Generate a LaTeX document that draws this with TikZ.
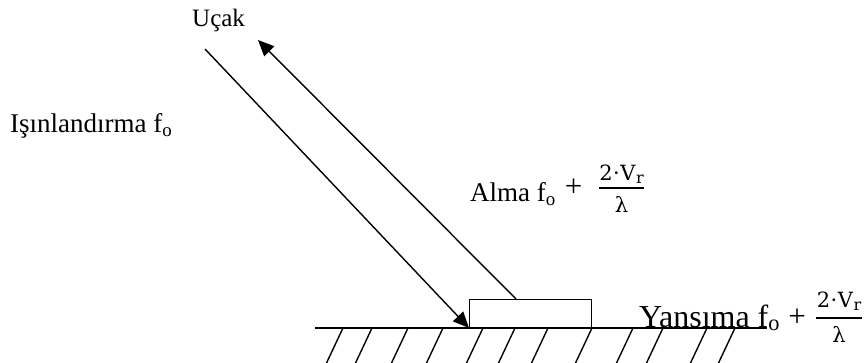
\documentclass[tikz,border=0pt]{standalone}
\usepackage{fontspec}
\setmainfont{Liberation Serif}
\newfontfamily\fracfont{DejaVu Serif}
\usetikzlibrary{arrows.meta}
\tikzset{
  lbl/.style={inner sep=0pt, anchor=base west},
  ln/.style={line width=1.4pt},
  arr/.style={ln, -{Triangle[length=16pt,width=14pt]}},
  bar/.style={line width=2.6pt},
  fr/.style={inner sep=0pt, font=\fracfont\fontsize{21}{21}\selectfont},
  plus/.style={inner sep=0pt, font=\fontsize{31}{31}\selectfont},
}
\newcommand{\numtext}{2\kern0.5pt·\kern0.5pt V\kern0.5pt\raisebox{-3pt}{\fontsize{16}{16}\selectfont r}}
\begin{document}
\begin{tikzpicture}[x=1pt,y=-1pt]
\useasboundingbox (0,0) rectangle (864,363);
% texts
\node[lbl, font=\fontsize{25}{25}\selectfont] (ucak) at (192,27) {Uçak};
\node[lbl, font=\fontsize{27}{27}\selectfont] (isin) at (10,133) {Işınlandırma f\textsubscript{o}};
\node[lbl, font=\fontsize{27}{27}\selectfont] (alma) at (470,202) {Alma f\textsubscript{o}};
\node[plus] (almaplus) at (573.5,188) {+};
\node[fr, anchor=base] (almanum) at (621.5,181) {\numtext};
\node[fr, anchor=base] (almaden) at (621.5,213) {λ};
\draw[bar] (599,188) coordinate (ab1) -- (644,188) coordinate (ab2);
\node[lbl, font=\fontsize{32}{32}\selectfont] (yans) at (639,327) {Yansıma f\textsubscript{o}};
\node[plus] (yansplus) at (797,318) {+};
\node[fr, anchor=base] (yansnum) at (839,307) {\numtext};
\node[fr, anchor=base] (yansden) at (839,342) {λ};
\draw[bar] (816,318) coordinate (yb1) -- (862,318) coordinate (yb2);
% ground
\coordinate (gl) at (315,328);
\coordinate (gr) at (767,328);
\draw[ln] (gl) -- (gr);
\foreach \x in {343,372,408,443,483,515,548,592,633,663,707,735}
  \draw[ln] (\x,328) -- ++(-16.5,35);
% target box
\node[draw, ln, fill=white, minimum width=122pt, minimum height=28pt, inner sep=0pt, anchor=south west] (target) at (469,328) {};
% rays
\coordinate (src) at (205,49);
\coordinate (refl) at (516,299);
\coordinate (dst) at (258,40);
\draw[arr] (src) -- (target.south west);
\draw[arr] (refl) -- (dst);
\end{tikzpicture}
\end{document}
